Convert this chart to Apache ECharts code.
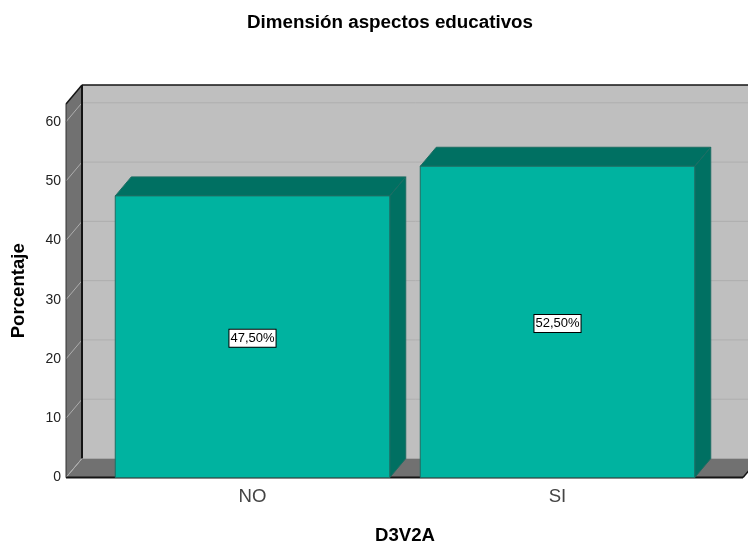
<!DOCTYPE html>
<html><head><meta charset="utf-8">
<style>html,body{margin:0;padding:0;background:#fff}#c{width:748px;height:543px}</style>
<script src="https://cdn.jsdelivr.net/npm/echarts@6/dist/echarts.min.js"></script>
</head><body><div id="c"></div>
<script>
const categories = ['NO', 'SI'];
const percentages = [47.5, 52.5];
const valueLabels = ['47,50%', '52,50%'];
const gridTicks = [0, 10, 20, 30, 40, 50, 60];
const axisMax = 63;

const DX = 16, DY = 19, LEFT_EXT = 34, RIGHT_EXT = 33;
const FRONT = '#00b3a0', DEEP = '#007062', EDGE = '#1d6d63';
const WALL = '#bfbfbf', SIDE = '#717171', GRIDC = '#aeaeae', INK = '#141414';

function poly(points, fill, stroke, lw) {
  return { type: 'polygon', shape: { points }, style: { fill, stroke: stroke || 'none', lineWidth: lw || 0 } };
}
function seg(x1, y1, x2, y2, stroke, lw) {
  return { type: 'line', shape: { x1, y1, x2, y2 }, style: { stroke, lineWidth: lw } };
}
function renderWalls(params, api) {
  const g = params.coordSys;
  const yb = api.coord([0, 0])[1], yt = g.y;
  const xl = g.x - LEFT_EXT, xr = g.x + g.width + RIGHT_EXT;
  const kids = [
    poly([[xl + DX, yt - DY], [xr + DX, yt - DY], [xr + DX, yb - DY], [xl + DX, yb - DY]], WALL),
    poly([[xl, yt], [xl + DX, yt - DY], [xl + DX, yb - DY], [xl, yb]], SIDE),
    poly([[xl, yb], [xl + DX, yb - DY], [xr + DX, yb - DY], [xr, yb]], SIDE)
  ];
  gridTicks.forEach(t => {
    const y = api.coord([0, t])[1];
    kids.push(seg(xl, y, xl + DX, y - DY, GRIDC, 1));
    if (t > 0) kids.push(seg(xl + DX, y - DY, xr + DX, y - DY, GRIDC, 1));
  });
  kids.push(seg(xl + DX, yt - DY, xr + DX, yt - DY, INK, 1.5));
  kids.push(seg(xl + DX, yt - DY, xl + DX, yb - DY, INK, 2));
  kids.push(seg(xl, yt, xl + DX, yt - DY, INK, 1.5));
  kids.push(seg(xl, yt, xl, yb, '#333', 1));
  kids.push(seg(xl, yb, xl + DX, yb - DY, GRIDC, 1));
  kids.push(seg(xl, yb, xr, yb, INK, 2));
  kids.push(seg(xr, yb, xr + DX, yb - DY, INK, 1.5));
  return { type: 'group', children: kids };
}
function renderBar(params, api) {
  const i = api.value(0), v = api.value(1);
  const c = api.coord([i, v]), base = api.coord([i, 0]);
  const w = api.size([1, 0])[0] * 0.9;
  const l = c[0] - w / 2, r = c[0] + w / 2, t = c[1], b = base[1];
  return { type: 'group', children: [
    poly([[l, t], [l + DX, t - DY], [r + DX, t - DY], [r, t]], DEEP, EDGE, 1),
    poly([[r, t], [r + DX, t - DY], [r + DX, b - DY], [r, b]], DEEP, EDGE, 1),
    poly([[l, t], [r, t], [r, b], [l, b]], FRONT, EDGE, 1),
    { type: 'text', x: c[0], y: (t + b) / 2 + 1.5,
      style: { text: valueLabels[params.dataIndex], fontFamily: 'Liberation Sans, Arial, sans-serif', fontSize: 13,
        fill: '#000', align: 'center', verticalAlign: 'middle', backgroundColor: '#fff',
        borderColor: '#000', borderWidth: 1, padding: [3, 1, 1, 1] } }
  ] };
}
const font = 'Liberation Sans, Arial, sans-serif';
const chart = echarts.init(document.getElementById('c'), null, { renderer: 'canvas' });
chart.setOption({
  animation: false,
  backgroundColor: '#fff',
  title: { text: 'Dimensión aspectos educativos', left: 385, top: 8, textAlign: 'center',
    textStyle: { fontFamily: font, fontSize: 18.8, fontWeight: 'bold', color: '#000' } },
  grid: { left: 100, right: 38, top: 104, bottom: 65.5, outerBoundsMode: 'none' },
  xAxis: { type: 'category', data: categories, axisLine: { show: false }, axisTick: { show: false },
    axisLabel: { fontFamily: font, fontSize: 18.6, color: '#444', margin: 10 },
    name: 'D3V2A', nameLocation: 'middle', nameGap: 49,
    nameTextStyle: { fontFamily: font, fontSize: 18.6, fontWeight: 'bold', color: '#000' } },
  yAxis: { type: 'value', min: 0, max: axisMax, interval: 10, offset: LEFT_EXT,
    axisLine: { show: false }, axisTick: { show: false }, splitLine: { show: false },
    axisLabel: { fontFamily: font, fontSize: 14, color: '#222', margin: 5, showMaxLabel: false, padding: [2, 0, 0, 0] },
    name: 'Porcentaje', nameLocation: 'middle', nameGap: 38,
    nameTextStyle: { fontFamily: font, fontSize: 18.6, fontWeight: 'bold', color: '#000' } },
  series: [
    { type: 'custom', name: 'walls', renderItem: renderWalls, data: [[0, 0]], clip: false, z: 1, silent: true },
    { type: 'custom', name: 'Porcentaje', renderItem: renderBar, clip: false, z: 2,
      encode: { x: 0, y: 1 }, data: percentages.map((v, i) => [i, v]) }
  ]
});
</script></body></html>
